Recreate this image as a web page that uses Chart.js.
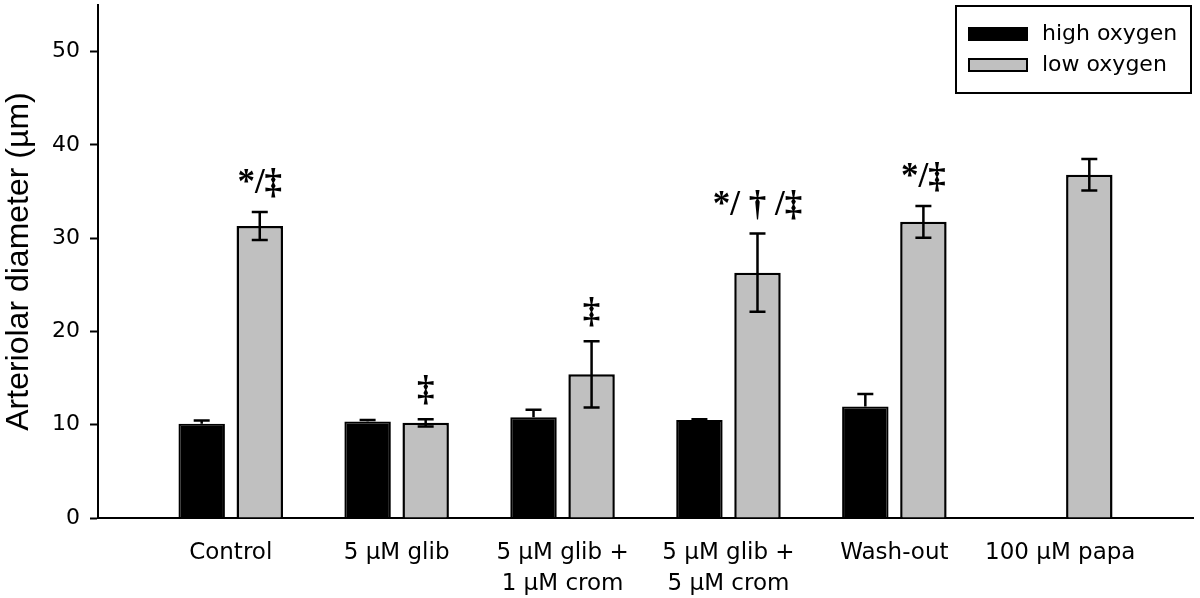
<!DOCTYPE html>
<html>
<head>
<meta charset="utf-8">
<script src="https://cdn.jsdelivr.net/npm/chart.js@4"></script>
<style>
  body { margin: 0; background: #fff; }
  #wrap { width: 1200px; height: 598px; }
</style>
</head>
<body>
<div id="wrap"><canvas id="chart"></canvas></div>
<script>
// categories and values
const groups = ['Control', '5 μM glib', ['5 μM glib +', '1 μM crom'], ['5 μM glib +', '5 μM crom'], 'Wash-out', '100 μM papa']
const highO2 = [10.1, 10.35, 10.8, 10.5, 11.95, null]
const highErr = [0.35, 0.15, 0.8, 0.1, 1.35, null]
const lowO2 = [31.3, 10.2, 15.4, 26.3, 31.75, 36.8]
const lowErr = [1.5, 0.4, 3.55, 4.2, 1.7, 1.7]
const lowMarks = ['*/‡', '‡', '‡', '*/ † /‡', '*/‡', '']
const yTicks = [0, 10, 20, 30, 40, 50]

const errorBars = {
  id: 'errorBars',
  afterDatasetsDraw(chart) {
    const ctx = chart.ctx
    const y = chart.scales.y
    ctx.save()
    ctx.strokeStyle = '#000'
    ctx.lineWidth = 2.5
    chart.data.datasets.forEach((ds, di) => {
      const meta = chart.getDatasetMeta(di)
      meta.data.forEach((bar, i) => {
        const v = ds.data[i].y
        const e = ds.errors[i]
        if (v == null || e == null) return
        const top = y.getPixelForValue(v + e)
        const bot = ds.errDown ? y.getPixelForValue(v - e) : bar.y
        ctx.beginPath()
        ctx.moveTo(bar.x, top); ctx.lineTo(bar.x, bot)
        ctx.moveTo(bar.x - 8, top); ctx.lineTo(bar.x + 8, top)
        if (ds.errDown) { ctx.moveTo(bar.x - 8, bot); ctx.lineTo(bar.x + 8, bot) }
        ctx.stroke()
        if (ds.marks && ds.marks[i]) {
          ctx.fillStyle = '#000'
          ctx.font = 'bold 35px "Liberation Serif"'
          ctx.textAlign = 'center'
          ctx.textBaseline = 'alphabetic'
          ctx.fillText(ds.marks[i], bar.x, top - 19)
        }
      })
    })
    ctx.restore()
  }
}

const boxLegend = {
  id: 'boxLegend',
  afterDraw(chart) {
    const ctx = chart.ctx
    ctx.save()
    ctx.strokeStyle = '#000'
    ctx.lineWidth = 2
    ctx.strokeRect(956, 6, 235, 87)
    ctx.font = '22px "DejaVu Sans"'
    ctx.textBaseline = 'middle'
    ctx.textAlign = 'left'
    chart.data.datasets.forEach((ds, i) => {
      const yy = 27 + i * 31
      ctx.fillStyle = ds.backgroundColor
      ctx.fillRect(968, yy, 60, 14)
      ctx.strokeRect(969, yy + 1, 58, 12)
      ctx.fillStyle = '#000'
      ctx.fillText(ds.label, 1042, yy + 7)
    })
    ctx.restore()
  }
}

new Chart(document.getElementById('chart'), {
  type: 'bar',
  data: {
    datasets: [{
      label: 'high oxygen',
      data: highO2.map((v, i) => ({ x: i, y: v })),
      errors: highErr,
      errDown: false,
      backgroundColor: '#000000',
      borderColor: '#000000',
      borderWidth: 2
    }, {
      label: 'low oxygen',
      data: lowO2.map((v, i) => ({ x: i, y: v })),
      errors: lowErr,
      errDown: true,
      marks: lowMarks,
      backgroundColor: '#c0c0c0',
      borderColor: '#000000',
      borderWidth: 2.5
    }]
  },
  options: {
    responsive: true,
    maintainAspectRatio: false,
    animation: false,
    categoryPercentage: 0.7,
    barPercentage: 0.8,
    layout: { padding: { top: 5, right: 7, left: 0, bottom: 0 } },
    plugins: {
      legend: { display: false },
      tooltip: { enabled: false }
    },
    scales: {
      x: {
        type: 'linear',
        min: -0.8,
        max: 5.8,
        offset: false,
        afterBuildTicks: s => { s.ticks = groups.map((g, i) => ({ value: i })) },
        afterFit: s => { s.height = 80; s.paddingLeft = 0; s.paddingRight = 0 },
        grid: { display: false },
        border: { display: true, color: '#000', width: 2 },
        ticks: {
          color: '#000',
          padding: 11,
          maxRotation: 0,
          autoSkip: false,
          font: { family: 'DejaVu Sans', size: 23, lineHeight: 1.36 },
          callback: v => groups[v]
        }
      },
      y: {
        min: 0,
        max: 55,
        afterBuildTicks: s => { s.ticks = yTicks.map(v => ({ value: v })) },
        afterFit: s => { s.width = 98; s.paddingTop = 0; s.paddingBottom = 0 },
        grid: { drawOnChartArea: false, tickLength: 8, tickColor: '#000', tickWidth: 2 },
        border: { display: true, color: '#000', width: 2 },
        ticks: {
          color: '#000',
          padding: 10,
          font: { family: 'DejaVu Sans', size: 22 }
        },
        title: {
          display: true,
          text: 'Arteriolar diameter (µm)',
          color: '#000',
          padding: { top: 0, bottom: 0 },
          font: { family: 'Liberation Sans', size: 32 }
        }
      }
    }
  },
  plugins: [errorBars, boxLegend]
})
</script>
</body>
</html>
